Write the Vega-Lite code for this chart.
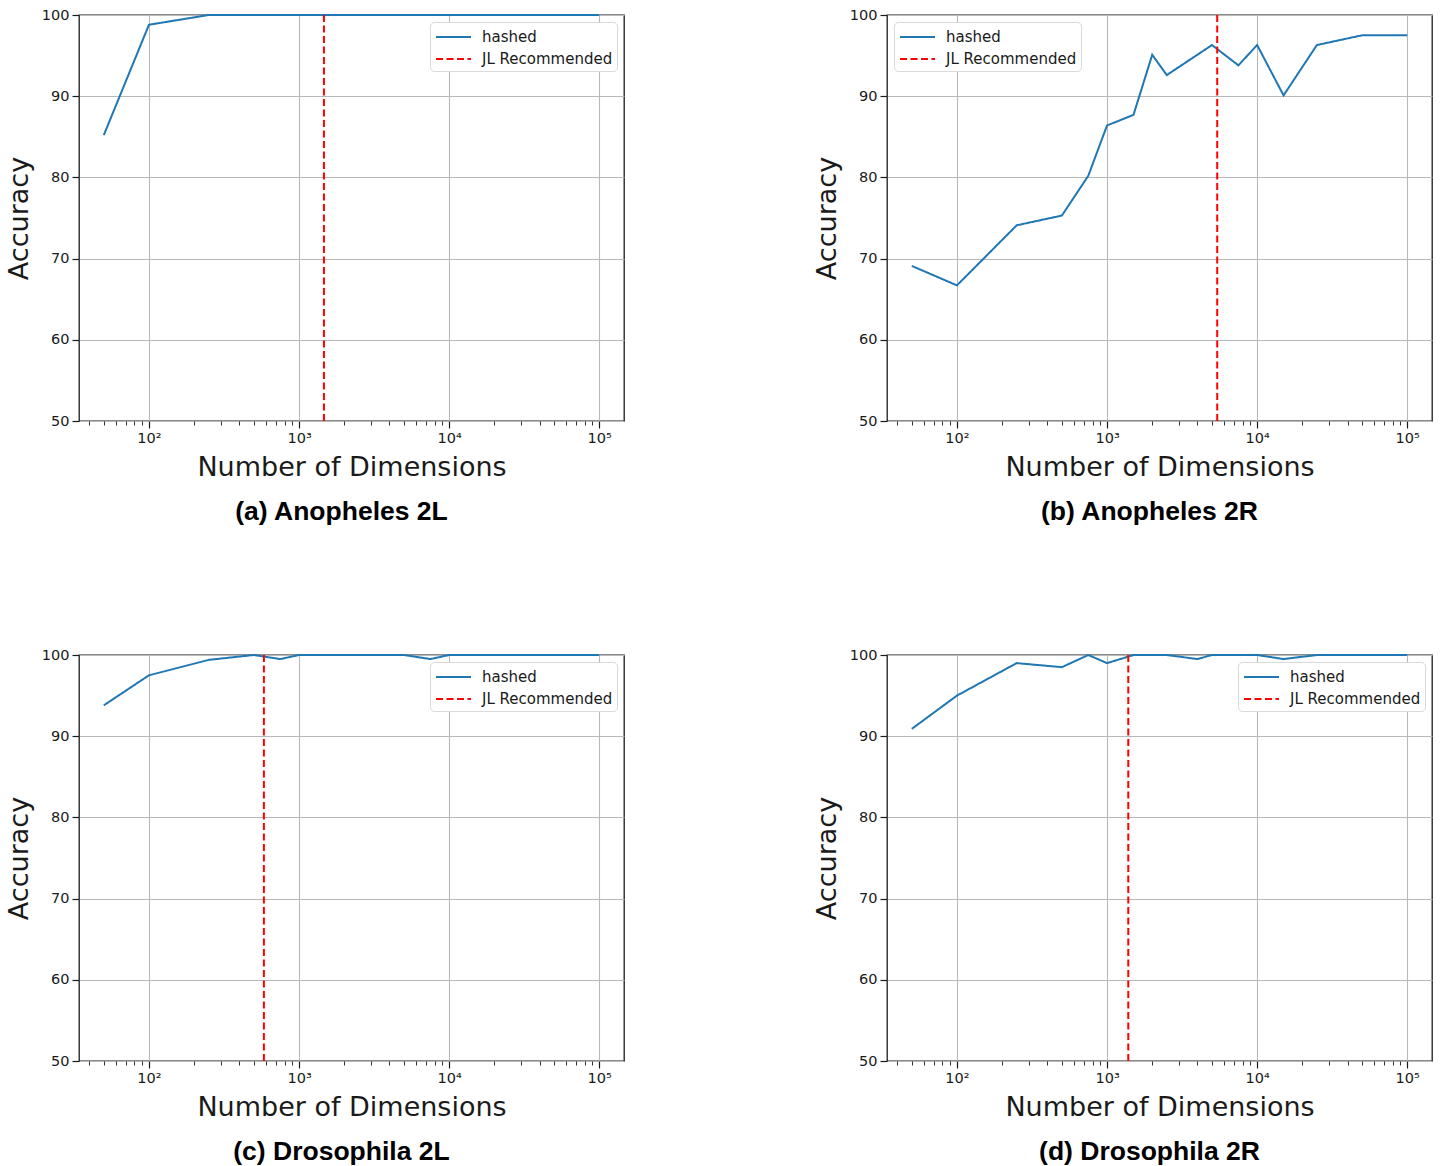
{
  "$schema": "https://vega.github.io/schema/vega-lite/v6.json",
  "background": "white",
  "padding": {"left": 4, "top": 6, "right": 5, "bottom": 5},
  "datasets": {
    "lines": [
      {"panel": "a", "series": "hashed", "dim": 50, "acc": 85.2},
      {"panel": "a", "series": "hashed", "dim": 100, "acc": 98.8},
      {"panel": "a", "series": "hashed", "dim": 250, "acc": 100},
      {"panel": "a", "series": "hashed", "dim": 500, "acc": 100},
      {"panel": "a", "series": "hashed", "dim": 750, "acc": 100},
      {"panel": "a", "series": "hashed", "dim": 1000, "acc": 100},
      {"panel": "a", "series": "hashed", "dim": 1500, "acc": 100},
      {"panel": "a", "series": "hashed", "dim": 2000, "acc": 100},
      {"panel": "a", "series": "hashed", "dim": 2500, "acc": 100},
      {"panel": "a", "series": "hashed", "dim": 5000, "acc": 100},
      {"panel": "a", "series": "hashed", "dim": 7500, "acc": 100},
      {"panel": "a", "series": "hashed", "dim": 10000, "acc": 100},
      {"panel": "a", "series": "hashed", "dim": 15000, "acc": 100},
      {"panel": "a", "series": "hashed", "dim": 25000, "acc": 100},
      {"panel": "a", "series": "hashed", "dim": 50000, "acc": 100},
      {"panel": "a", "series": "hashed", "dim": 100000, "acc": 100},
      {"panel": "b", "series": "hashed", "dim": 50, "acc": 69.1},
      {"panel": "b", "series": "hashed", "dim": 100, "acc": 66.7},
      {"panel": "b", "series": "hashed", "dim": 250, "acc": 74.1},
      {"panel": "b", "series": "hashed", "dim": 500, "acc": 75.3},
      {"panel": "b", "series": "hashed", "dim": 750, "acc": 80.2},
      {"panel": "b", "series": "hashed", "dim": 1000, "acc": 86.4},
      {"panel": "b", "series": "hashed", "dim": 1500, "acc": 87.7},
      {"panel": "b", "series": "hashed", "dim": 2000, "acc": 95.1},
      {"panel": "b", "series": "hashed", "dim": 2500, "acc": 92.6},
      {"panel": "b", "series": "hashed", "dim": 5000, "acc": 96.3},
      {"panel": "b", "series": "hashed", "dim": 7500, "acc": 93.8},
      {"panel": "b", "series": "hashed", "dim": 10000, "acc": 96.3},
      {"panel": "b", "series": "hashed", "dim": 15000, "acc": 90.1},
      {"panel": "b", "series": "hashed", "dim": 25000, "acc": 96.3},
      {"panel": "b", "series": "hashed", "dim": 50000, "acc": 97.5},
      {"panel": "b", "series": "hashed", "dim": 100000, "acc": 97.5},
      {"panel": "c", "series": "hashed", "dim": 50, "acc": 93.8},
      {"panel": "c", "series": "hashed", "dim": 100, "acc": 97.5},
      {"panel": "c", "series": "hashed", "dim": 250, "acc": 99.4},
      {"panel": "c", "series": "hashed", "dim": 500, "acc": 100},
      {"panel": "c", "series": "hashed", "dim": 750, "acc": 99.5},
      {"panel": "c", "series": "hashed", "dim": 1000, "acc": 100},
      {"panel": "c", "series": "hashed", "dim": 1500, "acc": 100},
      {"panel": "c", "series": "hashed", "dim": 2000, "acc": 100},
      {"panel": "c", "series": "hashed", "dim": 2500, "acc": 100},
      {"panel": "c", "series": "hashed", "dim": 5000, "acc": 100},
      {"panel": "c", "series": "hashed", "dim": 7500, "acc": 99.5},
      {"panel": "c", "series": "hashed", "dim": 10000, "acc": 100},
      {"panel": "c", "series": "hashed", "dim": 15000, "acc": 100},
      {"panel": "c", "series": "hashed", "dim": 25000, "acc": 100},
      {"panel": "c", "series": "hashed", "dim": 50000, "acc": 100},
      {"panel": "c", "series": "hashed", "dim": 100000, "acc": 100},
      {"panel": "d", "series": "hashed", "dim": 50, "acc": 90.9},
      {"panel": "d", "series": "hashed", "dim": 100, "acc": 95.0},
      {"panel": "d", "series": "hashed", "dim": 250, "acc": 99.0},
      {"panel": "d", "series": "hashed", "dim": 500, "acc": 98.5},
      {"panel": "d", "series": "hashed", "dim": 750, "acc": 100},
      {"panel": "d", "series": "hashed", "dim": 1000, "acc": 99.0},
      {"panel": "d", "series": "hashed", "dim": 1500, "acc": 100},
      {"panel": "d", "series": "hashed", "dim": 2000, "acc": 100},
      {"panel": "d", "series": "hashed", "dim": 2500, "acc": 100},
      {"panel": "d", "series": "hashed", "dim": 4000, "acc": 99.5},
      {"panel": "d", "series": "hashed", "dim": 5000, "acc": 100},
      {"panel": "d", "series": "hashed", "dim": 7500, "acc": 100},
      {"panel": "d", "series": "hashed", "dim": 10000, "acc": 100},
      {"panel": "d", "series": "hashed", "dim": 15000, "acc": 99.5},
      {"panel": "d", "series": "hashed", "dim": 25000, "acc": 100},
      {"panel": "d", "series": "hashed", "dim": 50000, "acc": 100},
      {"panel": "d", "series": "hashed", "dim": 100000, "acc": 100}
    ],
    "jl": [
      {"panel": "a", "series": "JL Recommended", "dim": 1465},
      {"panel": "b", "series": "JL Recommended", "dim": 5420},
      {"panel": "c", "series": "JL Recommended", "dim": 583},
      {"panel": "d", "series": "JL Recommended", "dim": 1385}
    ]
  },
  "columns": 2,
  "spacing": {"column": 187, "row": 120},
  "concat": [
    {
      "width": 545, "height": 406,
      "title": {"text": "(a) Anopheles 2L"},
      "resolve": {"axis": {"x": "independent"}},
      "layer": [
        {
          "data": {"name": "lines"},
          "transform": [{"filter": "datum.panel == 'a'"}],
          "mark": {"type": "line", "strokeWidth": 2},
          "encoding": {
            "x": {"field": "dim", "type": "quantitative", "scale": {"type": "log", "domain": [34.19, 146220], "nice": false},
                  "axis": {"values": [100, 1000, 10000, 100000], "labelExpr": "datum.value == 100 ? '10²' : datum.value == 1000 ? '10³' : datum.value == 10000 ? '10⁴' : '10⁵'", "title": "Number of Dimensions", "grid": true, "titlePadding": 10}},
            "y": {"field": "acc", "type": "quantitative", "scale": {"domain": [50, 100], "nice": false},
                  "axis": {"values": [50, 60, 70, 80, 90, 100], "title": "Accuracy", "grid": true, "titlePadding": 8}},
            "color": {"field": "series", "type": "nominal", "scale": {"domain": ["hashed", "JL Recommended"], "range": ["#1f77b4", "#ff0000"]}, "legend": {"title": null, "orient": "top-right"}},
            "strokeDash": {"field": "series", "type": "nominal", "scale": {"domain": ["hashed", "JL Recommended"], "range": [[1, 0], [7, 3.5]]}, "legend": {"title": null, "orient": "top-right"}}
          }
        },
        {
          "data": {"name": "jl"},
          "transform": [{"filter": "datum.panel == 'a'"}],
          "mark": {"type": "rule", "strokeWidth": 2},
          "encoding": {
            "x": {"field": "dim", "type": "quantitative", "axis": null},
            "color": {"field": "series", "type": "nominal"},
            "strokeDash": {"field": "series", "type": "nominal"}
          }
        },
        {
          "data": {"name": "jl"},
          "transform": [{"filter": "datum.panel == 'a'"}],
          "mark": {"type": "rule", "opacity": 0},
          "encoding": {
            "x": {"field": "dim", "type": "quantitative", "axis": {"orient": "bottom", "values": [40, 50, 60, 70, 80, 90, 200, 300, 400, 500, 600, 700, 800, 900, 2000, 3000, 4000, 5000, 6000, 7000, 8000, 9000, 20000, 30000, 40000, 50000, 60000, 70000, 80000, 90000], "labels": false, "grid": false, "tickSize": 4, "tickWidth": 0.9, "title": null}}
          }
        }
      ]
    },
    {
      "width": 545, "height": 406,
      "title": {"text": "(b) Anopheles 2R"},
      "resolve": {"axis": {"x": "independent"}},
      "layer": [
        {
          "data": {"name": "lines"},
          "transform": [{"filter": "datum.panel == 'b'"}],
          "mark": {"type": "line", "strokeWidth": 2},
          "encoding": {
            "x": {"field": "dim", "type": "quantitative", "scale": {"type": "log", "domain": [34.19, 146220], "nice": false},
                  "axis": {"values": [100, 1000, 10000, 100000], "labelExpr": "datum.value == 100 ? '10²' : datum.value == 1000 ? '10³' : datum.value == 10000 ? '10⁴' : '10⁵'", "title": "Number of Dimensions", "grid": true, "titlePadding": 10}},
            "y": {"field": "acc", "type": "quantitative", "scale": {"domain": [50, 100], "nice": false},
                  "axis": {"values": [50, 60, 70, 80, 90, 100], "title": "Accuracy", "grid": true, "titlePadding": 8}},
            "color": {"field": "series", "type": "nominal", "scale": {"domain": ["hashed", "JL Recommended"], "range": ["#1f77b4", "#ff0000"]}, "legend": {"title": null, "orient": "top-left"}},
            "strokeDash": {"field": "series", "type": "nominal", "scale": {"domain": ["hashed", "JL Recommended"], "range": [[1, 0], [7, 3.5]]}, "legend": {"title": null, "orient": "top-left"}}
          }
        },
        {
          "data": {"name": "jl"},
          "transform": [{"filter": "datum.panel == 'b'"}],
          "mark": {"type": "rule", "strokeWidth": 2},
          "encoding": {
            "x": {"field": "dim", "type": "quantitative", "axis": null},
            "color": {"field": "series", "type": "nominal"},
            "strokeDash": {"field": "series", "type": "nominal"}
          }
        },
        {
          "data": {"name": "jl"},
          "transform": [{"filter": "datum.panel == 'b'"}],
          "mark": {"type": "rule", "opacity": 0},
          "encoding": {
            "x": {"field": "dim", "type": "quantitative", "axis": {"orient": "bottom", "values": [40, 50, 60, 70, 80, 90, 200, 300, 400, 500, 600, 700, 800, 900, 2000, 3000, 4000, 5000, 6000, 7000, 8000, 9000, 20000, 30000, 40000, 50000, 60000, 70000, 80000, 90000], "labels": false, "grid": false, "tickSize": 4, "tickWidth": 0.9, "title": null}}
          }
        }
      ]
    },
    {
      "width": 545, "height": 406,
      "title": {"text": "(c) Drosophila 2L"},
      "resolve": {"axis": {"x": "independent"}},
      "layer": [
        {
          "data": {"name": "lines"},
          "transform": [{"filter": "datum.panel == 'c'"}],
          "mark": {"type": "line", "strokeWidth": 2},
          "encoding": {
            "x": {"field": "dim", "type": "quantitative", "scale": {"type": "log", "domain": [34.19, 146220], "nice": false},
                  "axis": {"values": [100, 1000, 10000, 100000], "labelExpr": "datum.value == 100 ? '10²' : datum.value == 1000 ? '10³' : datum.value == 10000 ? '10⁴' : '10⁵'", "title": "Number of Dimensions", "grid": true, "titlePadding": 10}},
            "y": {"field": "acc", "type": "quantitative", "scale": {"domain": [50, 100], "nice": false},
                  "axis": {"values": [50, 60, 70, 80, 90, 100], "title": "Accuracy", "grid": true, "titlePadding": 8}},
            "color": {"field": "series", "type": "nominal", "scale": {"domain": ["hashed", "JL Recommended"], "range": ["#1f77b4", "#ff0000"]}, "legend": {"title": null, "orient": "top-right"}},
            "strokeDash": {"field": "series", "type": "nominal", "scale": {"domain": ["hashed", "JL Recommended"], "range": [[1, 0], [7, 3.5]]}, "legend": {"title": null, "orient": "top-right"}}
          }
        },
        {
          "data": {"name": "jl"},
          "transform": [{"filter": "datum.panel == 'c'"}],
          "mark": {"type": "rule", "strokeWidth": 2},
          "encoding": {
            "x": {"field": "dim", "type": "quantitative", "axis": null},
            "color": {"field": "series", "type": "nominal"},
            "strokeDash": {"field": "series", "type": "nominal"}
          }
        },
        {
          "data": {"name": "jl"},
          "transform": [{"filter": "datum.panel == 'c'"}],
          "mark": {"type": "rule", "opacity": 0},
          "encoding": {
            "x": {"field": "dim", "type": "quantitative", "axis": {"orient": "bottom", "values": [40, 50, 60, 70, 80, 90, 200, 300, 400, 500, 600, 700, 800, 900, 2000, 3000, 4000, 5000, 6000, 7000, 8000, 9000, 20000, 30000, 40000, 50000, 60000, 70000, 80000, 90000], "labels": false, "grid": false, "tickSize": 4, "tickWidth": 0.9, "title": null}}
          }
        }
      ]
    },
    {
      "width": 545, "height": 406,
      "title": {"text": "(d) Drosophila 2R"},
      "resolve": {"axis": {"x": "independent"}},
      "layer": [
        {
          "data": {"name": "lines"},
          "transform": [{"filter": "datum.panel == 'd'"}],
          "mark": {"type": "line", "strokeWidth": 2},
          "encoding": {
            "x": {"field": "dim", "type": "quantitative", "scale": {"type": "log", "domain": [34.19, 146220], "nice": false},
                  "axis": {"values": [100, 1000, 10000, 100000], "labelExpr": "datum.value == 100 ? '10²' : datum.value == 1000 ? '10³' : datum.value == 10000 ? '10⁴' : '10⁵'", "title": "Number of Dimensions", "grid": true, "titlePadding": 10}},
            "y": {"field": "acc", "type": "quantitative", "scale": {"domain": [50, 100], "nice": false},
                  "axis": {"values": [50, 60, 70, 80, 90, 100], "title": "Accuracy", "grid": true, "titlePadding": 8}},
            "color": {"field": "series", "type": "nominal", "scale": {"domain": ["hashed", "JL Recommended"], "range": ["#1f77b4", "#ff0000"]}, "legend": {"title": null, "orient": "top-right"}},
            "strokeDash": {"field": "series", "type": "nominal", "scale": {"domain": ["hashed", "JL Recommended"], "range": [[1, 0], [7, 3.5]]}, "legend": {"title": null, "orient": "top-right"}}
          }
        },
        {
          "data": {"name": "jl"},
          "transform": [{"filter": "datum.panel == 'd'"}],
          "mark": {"type": "rule", "strokeWidth": 2},
          "encoding": {
            "x": {"field": "dim", "type": "quantitative", "axis": null},
            "color": {"field": "series", "type": "nominal"},
            "strokeDash": {"field": "series", "type": "nominal"}
          }
        },
        {
          "data": {"name": "jl"},
          "transform": [{"filter": "datum.panel == 'd'"}],
          "mark": {"type": "rule", "opacity": 0},
          "encoding": {
            "x": {"field": "dim", "type": "quantitative", "axis": {"orient": "bottom", "values": [40, 50, 60, 70, 80, 90, 200, 300, 400, 500, 600, 700, 800, 900, 2000, 3000, 4000, 5000, 6000, 7000, 8000, 9000, 20000, 30000, 40000, 50000, 60000, 70000, 80000, 90000], "labels": false, "grid": false, "tickSize": 4, "tickWidth": 0.9, "title": null}}
          }
        }
      ]
    }
  ],
  "resolve": {"scale": {"color": "independent", "strokeDash": "independent"}, "legend": {"color": "independent", "strokeDash": "independent"}},
  "config": {
    "font": "DejaVu Sans",
    "view": {"stroke": "#1a1a1a", "strokeWidth": 1.3},
    "axis": {"domain": false, "tickColor": "#1a1a1a", "tickSize": 7, "tickWidth": 1.2, "labelFont": "DejaVu Sans", "labelFontSize": 14.5, "labelColor": "#1a1a1a", "labelPadding": 3, "gridColor": "#b8b8b8", "gridWidth": 1.1, "gridOpacity": 1, "titleFont": "DejaVu Sans", "titleFontSize": 27, "titleFontWeight": "normal", "titleColor": "#1a1a1a"},
    "legend": {"fillColor": "white", "strokeColor": "#d9d9d9", "cornerRadius": 4, "padding": 4, "offset": 7, "labelFont": "DejaVu Sans", "labelFontSize": 15, "labelColor": "#1a1a1a", "symbolType": "M-0.9,0H2.6", "symbolSize": 400, "symbolStrokeWidth": 2, "rowPadding": 3, "labelOffset": 26},
    "title": {"font": "Liberation Sans", "fontSize": 26.5, "fontWeight": "bold", "color": "#000000", "orient": "bottom", "offset": 18, "dx": -10}
  }
}
